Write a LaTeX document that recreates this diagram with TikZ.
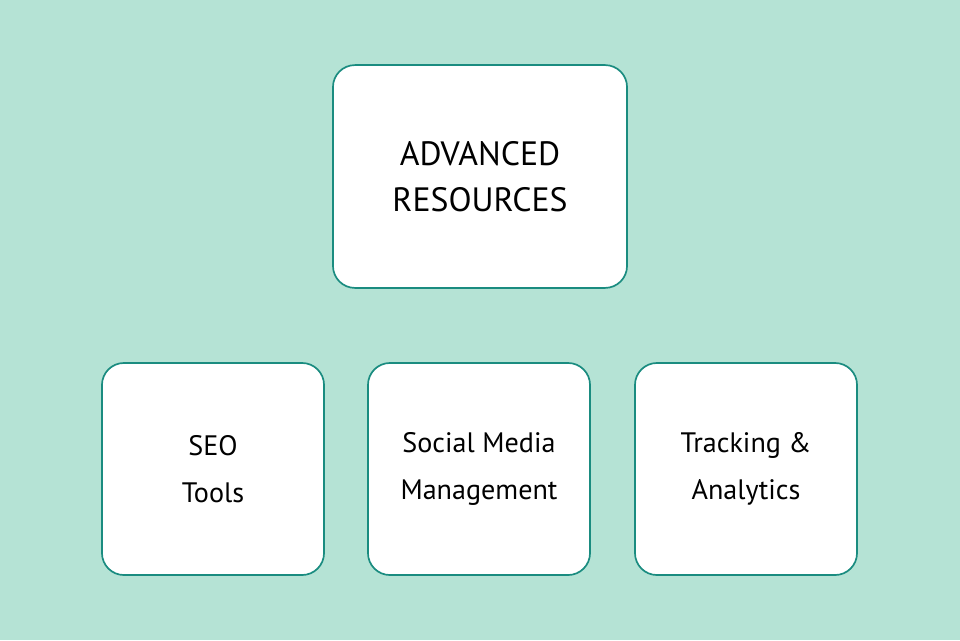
\documentclass[tikz,border=0pt]{standalone}
\usepackage{fontspec}
\setmainfont{PT Sans}
\usetikzlibrary{positioning,backgrounds}
\definecolor{bgmint}{HTML}{B5E3D5}
\definecolor{teal}{HTML}{1A8C80}
\tikzset{
  topbox/.style={draw=teal, line width=1.2pt, fill=white, rounded corners=0.55cm,
    minimum width=7.35cm, minimum height=5.57cm, align=center, font=\fontsize{24}{33}\selectfont},
  subbox/.style={draw=teal, line width=1.2pt, fill=white, rounded corners=0.55cm,
    minimum width=5.55cm, minimum height=5.3cm, align=center, font=\fontsize{20}{33}\selectfont},
  link/.style={draw=teal, line width=3.5pt}
}
\begin{document}
\begin{tikzpicture}[x=0.025cm, y=-0.025cm]
            \fill[bgmint] (0, 0) rectangle (960, 640);
            \node[topbox] (adv) at (480, 176.5) {ADVANCED\\RESOURCES};
            \node[subbox] (seo) at (213, 469) {SEO\\Tools};
            \node[subbox] (social) at (479, 469) {Social Media\\Management};
            \node[subbox] (track) at (746, 469) {Tracking \&\\Analytics};
            \begin{scope}[on background layer]
            \draw[link] ([xshift=0.75cm]adv.south west) -- ([xshift=-0.3cm, yshift=-0.15cm]seo.north east);
            \draw[link] (adv.south -| social.north) -- (social.north);
            \draw[link] ([xshift=-0.9cm]adv.south east) -- ([xshift=0.15cm, yshift=-0.25cm]track.north west);
            \end{scope}
\end{tikzpicture}
\end{document}
